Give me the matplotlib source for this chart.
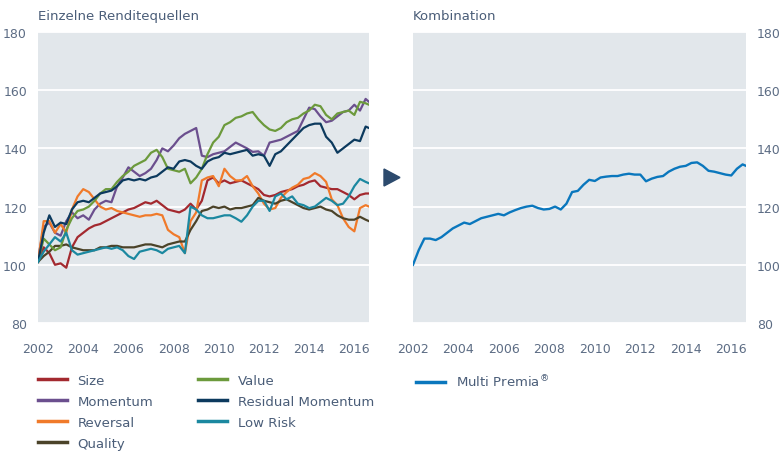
import numpy as np
import matplotlib
matplotlib.use("Agg")
import matplotlib.pyplot as plt
from matplotlib.patches import Polygon

# quarterly time grid, last point = end of data (Aug 2016)
t = list(np.arange(2002.0, 2016.51, 0.25)) + [2016.65]

size = [101, 106, 104, 100, 100.5, 99, 106, 109.5, 111, 112.5, 113.5, 114, 115, 116, 117, 118,
        119, 119.5, 120.5, 121.5, 121, 122, 120.5, 119, 118.5, 118, 119, 121, 119, 122, 129, 130,
        128, 129, 128, 128.5, 129, 128, 127, 126, 124, 123.5, 124, 125, 125.5, 126, 127, 127.5,
        128.5, 129, 127, 126.5, 126, 126, 125, 124, 122.5, 124, 124.5, 124.5]
momentum = [102, 113, 114.5, 111, 110, 115, 118, 116, 117, 115.5, 119, 121, 122, 121.5, 127, 130,
            133.5, 132, 130.5, 131.5, 133, 136, 140, 139, 141, 143.5, 145, 146, 147, 137.5, 137, 138,
            138.5, 139, 140.5, 142, 141, 140, 138.8, 139, 137.5, 142, 142.5, 143, 144, 145, 146, 150,
            154, 153.5, 151, 149, 149.5, 151, 152.5, 153, 155, 153, 157, 156]
reversal = [101, 115, 115, 111, 114, 111, 119, 123.5, 126, 125, 122.5, 120, 119, 119.5, 118.5, 118,
            117.5, 117, 116.5, 117, 117, 117.5, 117, 112, 110.5, 109.5, 104, 115, 118, 129, 130, 130.5,
            127, 133, 130.5, 129, 129, 130.5, 127, 124.5, 121, 119, 119.5, 123, 125, 126.5, 127.5, 129.5,
            130, 131.5, 130.5, 128.5, 122.5, 120.5, 116, 113, 111.5, 119.5, 120.5, 120]
quality = [101, 103, 104.5, 106.5, 106.5, 107, 106, 105.5, 105, 105, 105, 106, 106, 106.5, 106.5, 106,
           106, 106, 106.5, 107, 107, 106.5, 106, 107, 107.5, 108, 108, 112, 115, 118.5, 119, 120,
           119.5, 120, 119, 119.5, 119.5, 120, 120.5, 123, 122, 121.5, 121, 122, 122.5, 121.5, 120.5, 119.5,
           119, 119.5, 120, 119, 118.5, 117, 116, 115.5, 115.5, 116.5, 115.5, 115]
value = [101, 109, 107, 105, 106, 112, 116, 118.5, 119, 120, 122, 124.5, 126, 126, 128.5, 130.5,
         132, 134, 135, 136, 138.5, 139.5, 137, 133, 132.5, 132, 133, 128, 130, 133, 138, 142,
         144, 148, 149, 150.5, 151, 152, 152.5, 150, 148, 146.5, 146, 147, 149, 150, 150.5, 152,
         153, 155, 154.5, 151.5, 150, 152, 152.5, 153, 151.5, 156, 155.5, 155]
res_momentum = [101, 111, 117, 113, 114.5, 114, 119, 121.5, 122, 121.5, 123, 124.5, 125, 125.5, 127, 129,
                129.5, 129, 129.5, 129, 130, 130.5, 132, 133.5, 133, 135.5, 136, 135.5, 134, 133, 135.5, 136.5,
                137, 138.5, 138, 138.5, 139, 139.5, 137.5, 138, 137.5, 134, 138, 139, 141, 143, 145, 147,
                148, 148.5, 148.5, 144, 142, 138.5, 140, 141.5, 143, 142.5, 147.5, 147]
low_risk = [101, 104.5, 107, 109.5, 108, 111, 105, 103.5, 104, 104.5, 105, 105.5, 106, 105.5, 106, 105,
            103, 102, 104.5, 105, 105.5, 105, 104, 105.5, 106, 106.5, 104, 120, 119, 117, 116, 116,
            116.5, 117, 117, 116, 114.8, 117, 120, 122, 122, 118.5, 123.5, 124.5, 122.5, 123.5, 121, 120.5,
            119.5, 120, 121.5, 123, 122, 120.5, 121, 123.5, 127, 129.5, 128.5, 128]
multi = [100, 105, 109, 109, 108.5, 109.5, 111, 112.5, 113.5, 114.5, 114, 115, 116, 116.5, 117, 117.5,
         117, 118, 118.8, 119.5, 120, 120.3, 119.5, 119, 119.2, 120, 119, 121, 125, 125.4, 127.5, 129.2,
         128.8, 130, 130.3, 130.5, 130.5, 131, 131.3, 131, 131, 128.7, 129.6, 130.2, 130.5, 132, 133, 133.7,
         134, 135, 135.2, 134, 132.3, 132, 131.5, 131, 130.7, 133, 134.5, 134]

left_series = [
    ("Size", size, "#a3292f"),
    ("Momentum", momentum, "#6b4f8e"),
    ("Reversal", reversal, "#f07a2a"),
    ("Quality", quality, "#4b4329"),
    ("Value", value, "#6c9a3c"),
    ("Residual Momentum", res_momentum, "#0c3a5e"),
    ("Low Risk", low_risk, "#1b88a0"),
]

bg = "#e2e7eb"
txt = "#4a5d78"
tick_col = "#5c6c84"
yticks = [80, 100, 120, 140, 160, 180]
xticks = list(range(2002, 2017, 2))

fig = plt.figure(figsize=(7.81, 4.52), dpi=100)
ax1 = fig.add_axes([0.0487, 0.2832, 0.4238, 0.6438])
ax2 = fig.add_axes([0.5288, 0.2832, 0.4264, 0.6438])

for ax in (ax1, ax2):
    ax.set_facecolor(bg)
    ax.set_xlim(2002, 2016.65)
    ax.set_ylim(80, 180)
    ax.set_yticks(yticks)
    ax.set_xticks(xticks)
    ax.grid(axis="y", color="white", linewidth=1.3)
    ax.set_axisbelow(True)
    for s in ax.spines.values():
        s.set_visible(False)
    ax.tick_params(length=0, labelsize=9, colors=tick_col)
    ax.tick_params(axis="x", pad=14)
    ax.tick_params(axis="y", pad=8)

for name, vals, col in left_series:
    ax1.plot(t, vals, color=col, linewidth=1.6, label=name)

ax2.plot(t, multi, color="#0a77bd", linewidth=1.7, label="Multi Premia")
ax2.yaxis.tick_right()

ax1.text(0, 1.035, "Einzelne Renditequellen", transform=ax1.transAxes,
         fontsize=9.5, color=txt, ha="left", va="bottom")
ax2.text(0, 1.035, "Kombination", transform=ax2.transAxes,
         fontsize=9.5, color=txt, ha="left", va="bottom")

# arrow between the panels
tri = Polygon([[384 / 781, 1 - 170 / 452], [384 / 781, 1 - 187 / 452], [400 / 781, 1 - 178.5 / 452]],
              closed=True, transform=fig.transFigure, color="#2c4a6d")
fig.add_artist(tri)

h, l = ax1.get_legend_handles_labels()
leg1 = fig.legend(h, l, ncol=2, loc="upper left", bbox_to_anchor=(38 / 781, 1 - 375 / 452),
                  frameon=False, fontsize=9.5, handlelength=2.2, handletextpad=0.8,
                  columnspacing=3.4, labelspacing=0.6, borderpad=0, borderaxespad=0, labelcolor=txt)
for ln in leg1.get_lines():
    ln.set_linewidth(2.5)

h2, l2 = ax2.get_legend_handles_labels()
leg2 = fig.legend(h2, ["Multi Premia$^{\\mathregular{®}}$"], loc="upper left",
                  bbox_to_anchor=(416 / 781, 1 - 374 / 452),
                  frameon=False, fontsize=9.5, handlelength=2.2, handletextpad=0.8,
                  borderpad=0, borderaxespad=0, labelcolor=txt)
for ln in leg2.get_lines():
    ln.set_linewidth(2.5)

fig.savefig("out.png", dpi=100)
